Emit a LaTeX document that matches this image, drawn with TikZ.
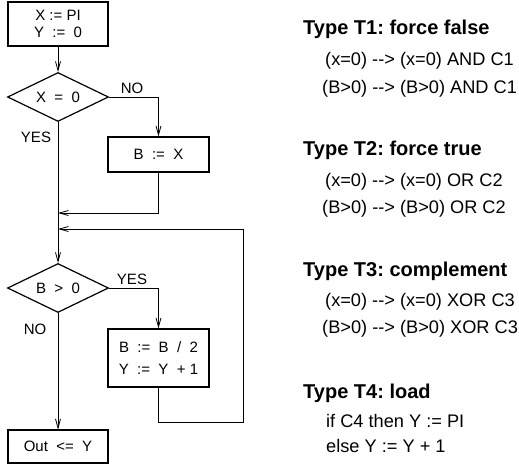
\documentclass[tikz,border=0pt]{standalone}
\usepackage{fontspec}
\setmainfont{Liberation Sans}[Ligatures=TeXOff]
\usetikzlibrary{shapes.geometric,arrows.meta}
\begin{document}
\frenchspacing
\begin{tikzpicture}[x=1pt,y=-1pt,
  box/.style={draw, line width=1.2pt, inner sep=0pt, align=center,
    font=\fontsize{15}{16.5}\selectfont},
  dia/.style={draw, diamond, shape aspect=2, line width=1.2pt,
    minimum width=101pt, minimum height=49pt, inner sep=0pt,
    font=\fontsize{15}{17}\selectfont},
  conn/.style={line width=0.8pt},
  arr/.style={conn, -{Straight Barb[length=9pt,width=5pt]}},
  lbl/.style={font=\fontsize{15}{17}\selectfont, inner sep=0pt},
  head/.style={font=\bfseries\fontsize{20}{22}\selectfont, anchor=base west, inner sep=0pt},
  txt/.style={font=\fontsize{18.2}{20}\selectfont, anchor=base west, inner sep=0pt}]
\useasboundingbox (0,0) rectangle (519,466);

% flowchart nodes
\node[box, minimum width=100pt, minimum height=44pt] (b1) at (58,24) {X := PI\\Y~~:=~~0};
\node[dia] (d1) at (58,97) {X~~=~~0};
\node[box, minimum width=101pt, minimum height=35pt] (b2) at (158.5,154.5) {B~~:=~~X};
\node[dia] (d2) at (58,288) {B~~>~~0};
\node[box, minimum width=101pt, minimum height=58pt] (b3) at (158.5,358) {B~~:=~~B~~/~~2\\[5pt]Y~~:=~~Y~~+ 1};
\node[box, minimum width=100pt, minimum height=33pt] (b4) at (58,446.5) {Out~~<=~~Y};

\coordinate (j1) at (58,213);
\coordinate (j2) at (58,229);
\coordinate (lp) at (243,422);

% connectors
\draw[arr] (b1.south) -- (d1.north);
\draw[arr] (d1.east) -| (b2.north);
\draw[arr] (d1.south) -- (d2.north);
\draw[arr] (b2.south) |- (j1);
\draw[arr] (d2.east) -| (b3.north);
\draw[arr] (b3.south) |- (lp) |- (j2);
\draw[arr] (d2.south) -- (b4.north);

% branch labels
\node[lbl] (no1) at (132,88) {NO};
\node[lbl] (yes1) at (36,137) {YES};
\node[lbl] (yes2) at (132,279) {YES};
\node[lbl] (no2) at (35,329) {NO};

% right-hand text
\node[head] (t1) at (303,34) {Type T1: force false};
\node[txt] (t1a) at (325,65.5) {(x=0) --> (x=0) AND C1};
\node[txt] (t1b) at (322,93.5) {(B>0) --> (B>0) AND C1};

\node[head] (t2) at (303,155) {Type T2: force true};
\node[txt] (t2a) at (325,186.5) {(x=0) --> (x=0) OR C2};
\node[txt] (t2b) at (322,213.5) {(B>0) --> (B>0) OR C2};

\node[head] (t3) at (303,276) {Type T3: complement};
\node[txt] (t3a) at (325,306.5) {(x=0) --> (x=0) XOR C3};
\node[txt] (t3b) at (322,333.5) {(B>0) --> (B>0) XOR C3};

\node[head] (t4) at (303,398) {Type T4: load};
\node[txt] (t4a) at (326,427.5) {if C4 then Y := PI};
\node[txt] (t4b) at (326,452.5) {else Y := Y + 1};
\end{tikzpicture}
\end{document}
